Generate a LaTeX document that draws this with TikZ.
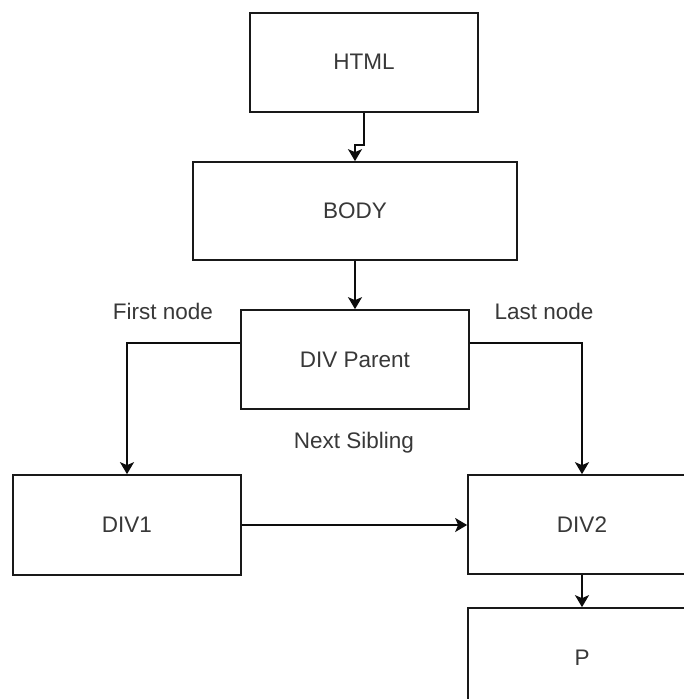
\documentclass[tikz,border=0pt]{standalone}
\usepackage{fontspec}
\setmainfont{Liberation Sans}
\usetikzlibrary{arrows.meta}
\begin{document}
\begin{tikzpicture}[x=1pt,y=-1pt,
  box/.style={draw=black!90, line width=1.7pt, fill=white, inner sep=0pt,
    minimum width=228pt, minimum height=99pt, text=black!78,
    font=\fontsize{22.5}{25}\selectfont},
  lbl/.style={text=black!78, inner sep=0pt, font=\fontsize{22.5}{25}\selectfont},
  link/.style={draw=black!95, line width=1.7pt,
    -{Stealth[length=12pt,width=14pt,inset=3pt]}}]
\useasboundingbox (0,0) rectangle (684,699);
\clip (0,0) rectangle (684,699);
\fill[white] (0,0) rectangle (684,699);

% boxes
\node[box] (html) at (364,62.2) {HTML};
\node[box, minimum width=324pt, minimum height=98pt] (body) at (355,211) {BODY};
\node[box] (parent) at (355,359.5) {DIV Parent};
\node[box, minimum height=100pt] (div1) at (127,525) {DIV1};
\node[box] (div2) at (582,524.5) {DIV2};
\node[box] (p) at (582,657.5) {P};

% edge labels
\node[lbl] (first) at (163,311) {First node};
\node[lbl] (last) at (544,311) {Last node};
\node[lbl] (next) at (354,443) {Next Sibling};

% bend points
\coordinate (k1) at (364,145);
\coordinate (k2) at (355,145);
\coordinate (pl) at (parent.west |- 0,343);
\coordinate (pr) at (parent.east |- 0,343);

% connectors
\draw[link] (html.south) -- (k1) -- (k2) -- (body.north);
\draw[link] (body.south) -- (parent.north);
\draw[link] (pl) -| (div1.north);
\draw[link] (pr) -| (div2.north);
\draw[link] (div1.east |- 0,525) -- (div2.west |- 0,525);
\draw[link] (div2.south) -- (p.north);
\end{tikzpicture}
\end{document}
